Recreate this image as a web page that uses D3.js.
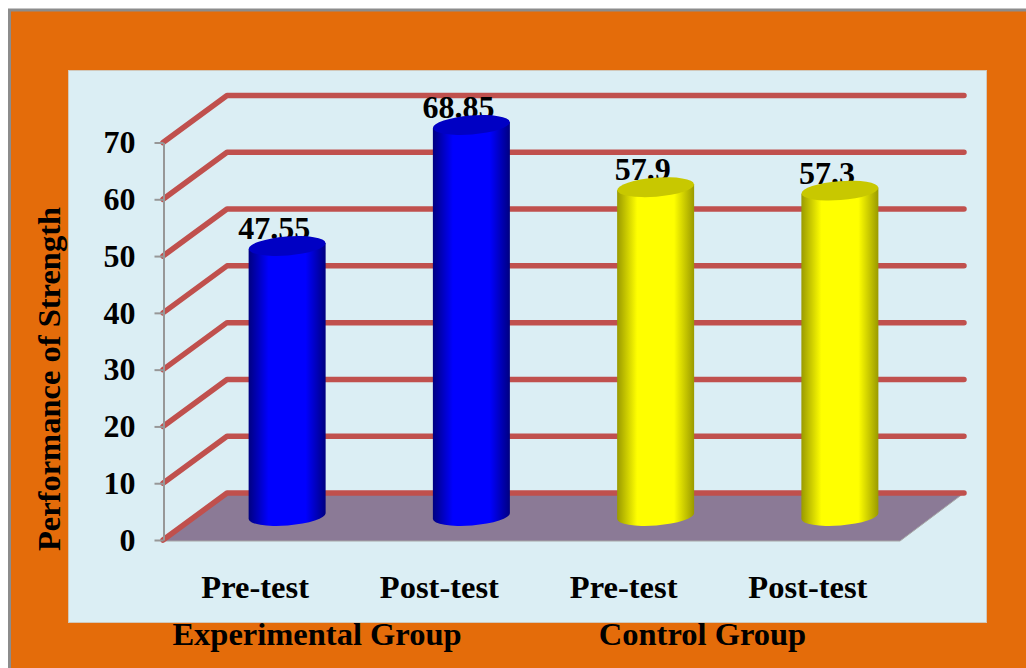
<!DOCTYPE html>
<html>
<head>
<meta charset="utf-8">
<script src="https://d3js.org/d3.v7.min.js"></script>
<style>
  html, body { margin: 0; padding: 0; background: #fff; }
  svg { display: block; font-family: "Liberation Serif", serif; font-weight: bold; fill: #000; }
  .axis path, .axis line { fill: none; }
</style>
</head>
<body>
<svg id="chart" width="1026" height="668"></svg>
<script>
// Strength scores, two groups measured before and after the programme
const categories = ["Pre-test", "Post-test", "Pre-test", "Post-test"];
const values = [47.55, 68.85, 57.9, 57.3];
const groups = ["Experimental Group", "Control Group"];
const groupOfBar = [0, 0, 1, 1];
const yTicks = [0, 10, 20, 30, 40, 50, 60, 70];
const yTitle = "Performance of Strength";

const palettes = [
  { edge: "#000080", mid: "#0000ff", cap: "#0000c4" },
  { edge: "#9a9a00", mid: "#ffff00", cap: "#c8c800" }
];

// Oblique 3-D projection: the back wall sits up and to the right of the front plane
const depthX = 64, depthY = 47;
const y = d3.scaleLinear().domain([0, 70]).range([540, 142.5]);
const x = d3.scaleBand().domain(d3.range(categories.length)).range([163, 900]);

const svg = d3.select("#chart");
const defs = svg.append("defs");

palettes.forEach((p, i) => {
  const g = defs.append("linearGradient").attr("id", "cyl" + i);
  [[0, p.edge], [0.26, p.mid], [0.74, p.mid], [1, p.edge]].forEach(([o, c]) =>
    g.append("stop").attr("offset", o).attr("stop-color", c));
});

// Orange frame with a grey top and left rule, then the pale plot panel
svg.append("rect").attr("x", 8).attr("y", 9).attr("width", 1018).attr("height", 659).attr("fill", "#e46c0a");
svg.append("path").attr("d", "M9.5,668V10H1026").attr("fill", "none").attr("stroke", "#8c8c8c").attr("stroke-width", 3);
svg.append("rect").attr("x", 68.5).attr("y", 70.5).attr("width", 918).attr("height", 552)
  .attr("fill", "#dbeef4").attr("stroke", "#d2c8ba").attr("stroke-width", 1);

// Floor
const x0 = x.range()[0], x1 = x.range()[1];
svg.append("path")
  .attr("d", d3.line()([
    [x0, y(0) + 1], [x0 + depthX, y(0) - depthY], [x1 + depthX, y(0) - depthY], [x1, y(0) + 1]
  ]) + "Z")
  .attr("fill", "#8b7a96").attr("stroke", "#a6a6a6").attr("stroke-width", 1);

// Gridlines run along the side wall and then across the back wall
svg.append("g").selectAll("path").data(yTicks).join("path")
  .attr("d", d => d3.line()([
    [x0, y(d)], [x0 + depthX, y(d) - depthY], [x1 + depthX, y(d) - depthY]
  ]))
  .attr("fill", "none").attr("stroke", "#c0504d").attr("stroke-width", 5.5)
  .attr("stroke-linecap", "round").attr("stroke-linejoin", "round");

// Value axis
const yAxis = svg.append("g").attr("class", "axis")
  .attr("transform", `translate(${x0 + 0.5},0)`)
  .call(d3.axisLeft(y).tickValues(yTicks).tickSize(9).tickPadding(19).tickSizeOuter(0));
yAxis.selectAll("path, line").attr("stroke", "#979797").attr("stroke-width", 2);
yAxis.selectAll("text").attr("font-size", 32).attr("font-family", "Liberation Serif").attr("font-weight", "bold").attr("fill", "#000");

// Category axis
const xAxis = svg.append("g").attr("class", "axis")
  .attr("transform", `translate(0,${y(0)})`)
  .call(d3.axisBottom(x).tickFormat(i => categories[i]).tickSize(0).tickPadding(35));
xAxis.select("path").remove();
xAxis.selectAll("text").attr("font-size", 32.5).attr("font-family", "Liberation Serif").attr("font-weight", "bold").attr("fill", "#000");

// Group captions straddle the panel edge
[[317, 0], [702.5, 1]].forEach(([cx, g]) => {
  svg.append("text").attr("x", cx).attr("y", 645).attr("text-anchor", "middle")
    .attr("font-size", 32.5).text(groups[g]);
});

// Value labels go under the cylinders, whose caps overlap their lower edge
const barX = i => x(i) + x.bandwidth() / 2 + depthX / 2;
const barBase = y(0) - depthY / 2 - 0.5;
const barY = v => y(v) - depthY / 2 - 0.5;
svg.append("g").selectAll("text").data(values).join("text")
  .attr("x", (d, i) => barX(i) - 13)
  .attr("y", d => barY(d) - 7)
  .attr("text-anchor", "middle").attr("font-size", 32)
  .text(d => d);

// Cylinders
const rx = 38.5, ry = 9.5, tilt = -4.5;
const slope = rx * Math.sin(tilt * Math.PI / 180);
const bars = svg.append("g").selectAll("g").data(values).join("g");
bars.append("path")
  .attr("d", (d, i) => {
    const c = barX(i), t = barY(d);
    return `M${c - rx},${t - slope}V${barBase - slope}` +
      `A${rx},${ry} ${tilt} 0 0 ${c + rx},${barBase + slope}V${t + slope}Z`;
  })
  .attr("fill", (d, i) => `url(#cyl${groupOfBar[i]})`);
bars.append("ellipse")
  .attr("cx", (d, i) => barX(i)).attr("cy", d => barY(d))
  .attr("rx", rx).attr("ry", ry)
  .attr("transform", (d, i) => `rotate(${tilt} ${barX(i)} ${barY(d)})`)
  .attr("fill", (d, i) => palettes[groupOfBar[i]].cap);

// Rotated axis title over the orange frame
svg.append("text")
  .attr("transform", "translate(60,379) rotate(-90)")
  .attr("text-anchor", "middle").attr("font-size", 32.5)
  .text(yTitle);
</script>
</body>
</html>
